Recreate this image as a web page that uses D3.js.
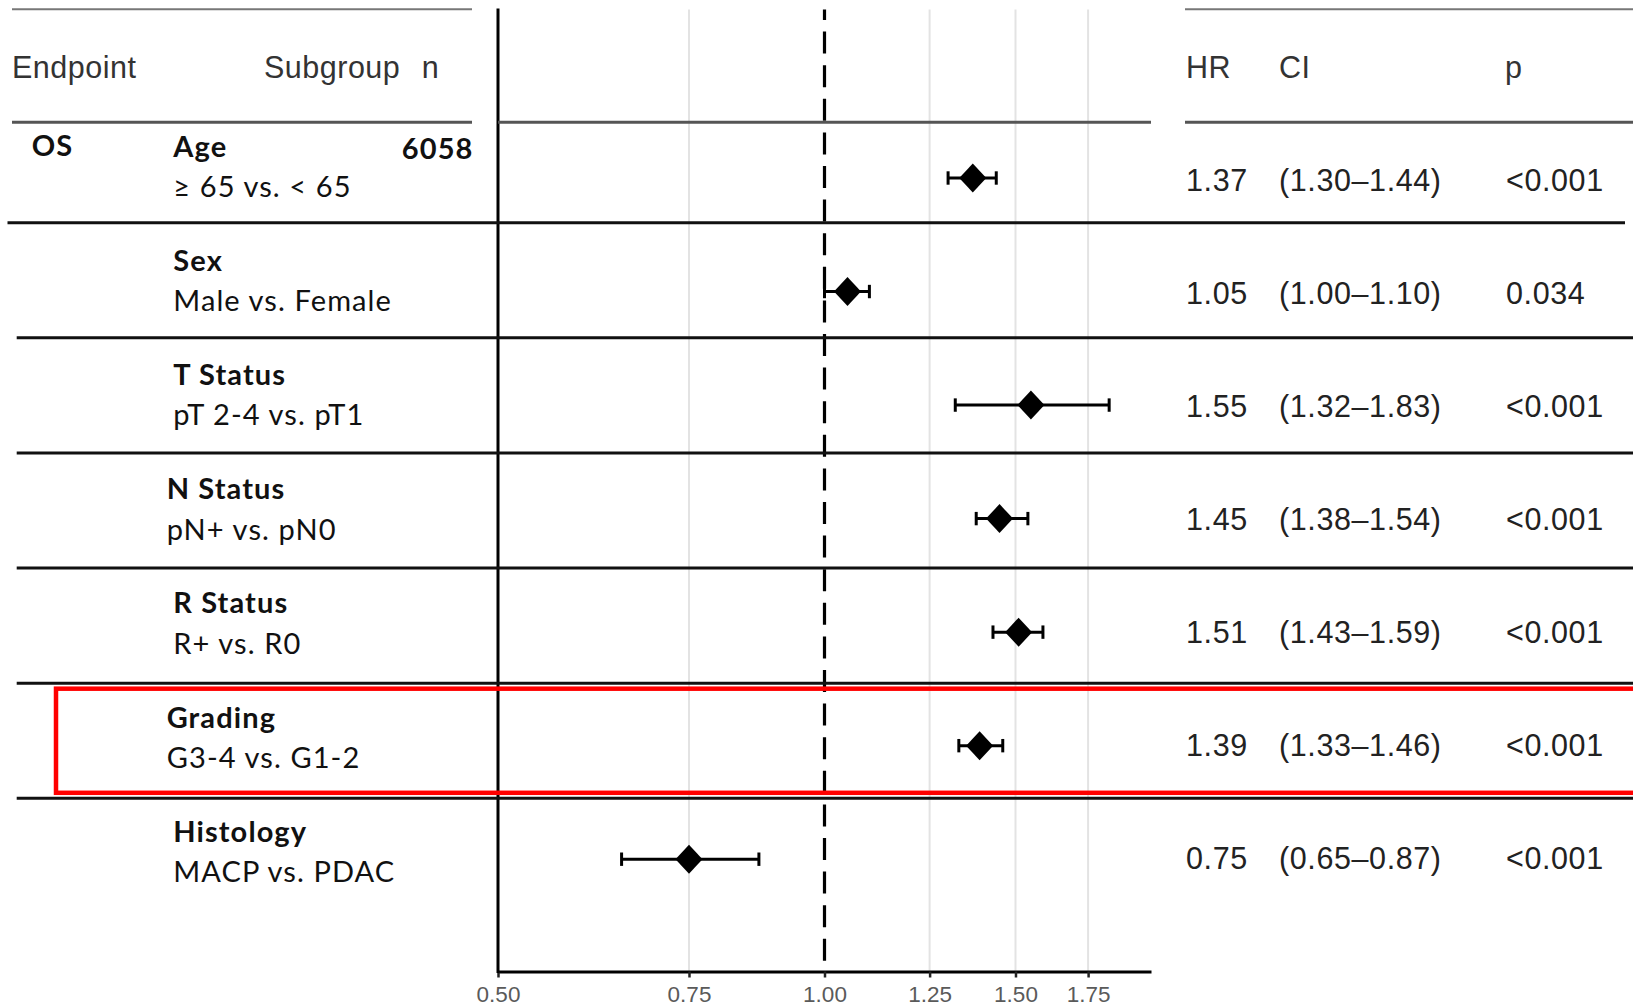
<!DOCTYPE html>
<html>
<head>
<meta charset="utf-8">
<script src="https://cdn.jsdelivr.net/npm/d3@7"></script>
<style>
  html, body { margin: 0; padding: 0; background: #fff; }
  svg { display: block; }
</style>
</head>
<body>
<svg id="chart" width="1633" height="1008"></svg>
<script>
// ---------------- data ----------------
const endpoints   = ["OS", "", "", "", "", "", ""];
const subgroups   = ["Age", "Sex", "T Status", "N Status", "R Status", "Grading", "Histology"];
const comparisons = ["≥ 65 vs. < 65", "Male vs. Female", "pT 2-4 vs. pT1", "pN+ vs. pN0", "R+ vs. R0", "G3-4 vs. G1-2", "MACP vs. PDAC"];
const nValues     = ["6058", "", "", "", "", "", ""];
const hrValues    = [1.37, 1.05, 1.55, 1.45, 1.51, 1.39, 0.75];
const ciLower     = [1.30, 1.00, 1.32, 1.38, 1.43, 1.33, 0.65];
const ciUpper     = [1.44, 1.10, 1.83, 1.54, 1.59, 1.46, 0.87];
const pValues     = ["<0.001", "0.034", "<0.001", "<0.001", "<0.001", "<0.001", "<0.001"];
const xTicks      = [0.50, 0.75, 1.00, 1.25, 1.50, 1.75];
const xDomain     = [0.5, 2.0];
const headersLeft = ["Endpoint", "Subgroup", "n"];
const headersRight = ["HR", "CI", "p"];
const highlightRow = "Grading";

const rows = subgroups.map((s, i) => ({
  i, endpoint: endpoints[i], subgroup: s, comparison: comparisons[i], n: nValues[i],
  hr: hrValues[i], lo: ciLower[i], hi: ciUpper[i], p: pValues[i]
}));
const fmt = d3.format(".2f");

// ---------------- layout ----------------
const W = 1633, H = 1008;
const svg = d3.select("#chart");
const labelFont = "Lato, 'Open Sans', sans-serif";
const arialFont = "'Liberation Sans', Arial, sans-serif";

const x = d3.scaleLog().domain(xDomain).range([498, 1151]);
const panelTop = 9.4, panelBottom = 971.5;

const n = rows.length;
const yPoint = d3.scaleLinear().domain([0, n - 1]).range([178, 859.2]);
const yTitle = d3.scaleLinear().domain([0, n - 1]).range([156.5, 841.7]);
const yValue = d3.scaleLinear().domain([0, n - 1]).range([191, 868.5]);
const ySep   = d3.scaleLinear().domain([0, n - 2]).range([222.7, 798.3]);
const labelShift = {3: -6.6, 5: -6.6};
const labelSize = 29, labelSpacing = 1.1;

// ---------------- plot panel ----------------
const grid = svg.append("g");
grid.selectAll("line.grid").data(xTicks.filter(t => t !== 1 && t !== 0.5)).join("line")
  .attr("x1", d => x(d)).attr("x2", d => x(d))
  .attr("y1", panelTop).attr("y2", panelBottom)
  .attr("stroke", "#e3e3e3").attr("stroke-width", 2);

// reference dashed line at HR = 1
svg.append("line")
  .attr("x1", x(1)).attr("x2", x(1))
  .attr("y1", panelTop).attr("y2", panelBottom)
  .attr("stroke", "#000").attr("stroke-width", 3.2)
  .attr("stroke-dasharray", "22,11.6").attr("stroke-dashoffset", 11.4);

// x axis
const xAxis = d3.axisBottom(x).tickValues(xTicks).tickFormat(fmt).tickSize(6).tickSizeOuter(0);
const ax = svg.append("g").attr("transform", `translate(0,${panelBottom})`).call(xAxis);
ax.select(".domain").attr("stroke", "#000").attr("stroke-width", 3);
ax.selectAll(".tick line").attr("stroke", "#222").attr("stroke-width", 2.5);
ax.selectAll(".tick text")
  .attr("font-family", arialFont).attr("font-size", 22.5).attr("fill", "#5a5a5a")
  .attr("dy", 0).attr("y", 30.5);

// y axis line (left of panel)
svg.append("line")
  .attr("x1", x(xDomain[0])).attr("x2", x(xDomain[0]))
  .attr("y1", panelTop - 1).attr("y2", panelBottom + 1.5)
  .attr("stroke", "#000").attr("stroke-width", 3);

// ---------------- table rules ----------------
const rules = svg.append("g");
rules.append("line").attr("x1", 12).attr("x2", 472).attr("y1", 9.3).attr("y2", 9.3)
  .attr("stroke", "#777").attr("stroke-width", 2);
rules.append("line").attr("x1", 1185).attr("x2", W).attr("y1", 9.3).attr("y2", 9.3)
  .attr("stroke", "#777").attr("stroke-width", 2);
rules.append("line").attr("x1", 12).attr("x2", 472).attr("y1", 122.3).attr("y2", 122.3)
  .attr("stroke", "#555").attr("stroke-width", 3);
rules.append("line").attr("x1", x(xDomain[0])).attr("x2", x(xDomain[1])).attr("y1", 122.3).attr("y2", 122.3)
  .attr("stroke", "#555").attr("stroke-width", 3);
rules.append("line").attr("x1", 1185).attr("x2", W).attr("y1", 122.3).attr("y2", 122.3)
  .attr("stroke", "#555").attr("stroke-width", 3);
rules.selectAll("line.sep").data(d3.range(n - 1)).join("line")
  .attr("class", "sep")
  .attr("x1", d => d === 0 ? 7.5 : 16.7)
  .attr("x2", d => d === 0 ? 1625 : W)
  .attr("y1", d => ySep(d)).attr("y2", d => ySep(d))
  .attr("stroke", "#111").attr("stroke-width", 3);

// ---------------- headers ----------------
const hdrL = [12, 264, 421.7], hdrR = [1186, 1279, 1505];
svg.selectAll("text.hl").data(headersLeft).join("text")
  .attr("x", (d, i) => hdrL[i]).attr("y", 78)
  .attr("font-family", arialFont).attr("font-size", 30.5).attr("letter-spacing", 0.5)
  .attr("fill", "#333").text(d => d);
svg.selectAll("text.hr").data(headersRight).join("text")
  .attr("x", (d, i) => hdrR[i]).attr("y", 78)
  .attr("font-family", arialFont).attr("font-size", 30.5).attr("letter-spacing", 0.5)
  .attr("fill", "#333").text(d => d);

// ---------------- row labels ----------------
const lab = svg.append("g").attr("font-family", labelFont).attr("font-size", labelSize)
  .attr("letter-spacing", labelSpacing).attr("fill", "#111");
lab.selectAll("text.ep").data(rows).join("text")
  .attr("x", 31.7).attr("y", d => yTitle(d.i) - 1)
  .attr("font-weight", 700).text(d => d.endpoint);
lab.selectAll("text.sg").data(rows).join("text")
  .attr("x", d => 173.3 + (labelShift[d.i] || 0)).attr("y", d => yTitle(d.i))
  .attr("font-weight", 700).text(d => d.subgroup);
lab.selectAll("text.cmp").data(rows).join("text")
  .attr("x", d => 173.3 + (labelShift[d.i] || 0)).attr("y", d => yTitle(d.i) + 40.5)
  .text(d => d.comparison);
lab.selectAll("text.n").data(rows).join("text")
  .attr("x", 473.5).attr("y", d => yTitle(d.i) + 2).attr("text-anchor", "end")
  .attr("font-weight", 700).text(d => d.n);

// ---------------- values ----------------
const val = svg.append("g").attr("font-family", arialFont).attr("font-size", 30.5)
  .attr("letter-spacing", 0.6).attr("fill", "#222");
val.selectAll("text.hrv").data(rows).join("text")
  .attr("x", 1186).attr("y", d => yValue(d.i)).text(d => fmt(d.hr));
val.selectAll("text.ci").data(rows).join("text")
  .attr("x", 1279).attr("y", d => yValue(d.i)).text(d => `(${fmt(d.lo)}–${fmt(d.hi)})`);
val.selectAll("text.pv").data(rows).join("text")
  .attr("x", 1506).attr("y", d => yValue(d.i)).text(d => d.p);

// ---------------- estimates ----------------
const est = svg.append("g");
const capH = 6.7;
est.selectAll("line.ci").data(rows).join("line")
  .attr("x1", d => x(d.lo)).attr("x2", d => x(d.hi))
  .attr("y1", d => yPoint(d.i)).attr("y2", d => yPoint(d.i))
  .attr("stroke", "#000").attr("stroke-width", 3);
est.selectAll("line.capL").data(rows).join("line")
  .attr("x1", d => x(d.lo)).attr("x2", d => x(d.lo))
  .attr("y1", d => yPoint(d.i) - capH).attr("y2", d => yPoint(d.i) + capH)
  .attr("stroke", "#000").attr("stroke-width", 3);
est.selectAll("line.capR").data(rows).join("line")
  .attr("x1", d => x(d.hi)).attr("x2", d => x(d.hi))
  .attr("y1", d => yPoint(d.i) - capH).attr("y2", d => yPoint(d.i) + capH)
  .attr("stroke", "#000").attr("stroke-width", 3);
const hw = 13.5, hh = 14.5;
est.selectAll("path.dia").data(rows).join("path")
  .attr("d", d => {
    const cx = x(d.hr), cy = yPoint(d.i);
    return `M${cx},${cy - hh}L${cx + hw},${cy}L${cx},${cy + hh}L${cx - hw},${cy}Z`;
  })
  .attr("fill", "#000");

// ---------------- highlight box ----------------
const hi = subgroups.indexOf(highlightRow);
svg.append("rect")
  .attr("x", 56).attr("y", ySep(hi - 1) + 5.5)
  .attr("width", W + 20 - 56).attr("height", ySep(hi) - ySep(hi - 1) - 11)
  .attr("fill", "none").attr("stroke", "#ff0000").attr("stroke-width", 4.5);
</script>
</body>
</html>
